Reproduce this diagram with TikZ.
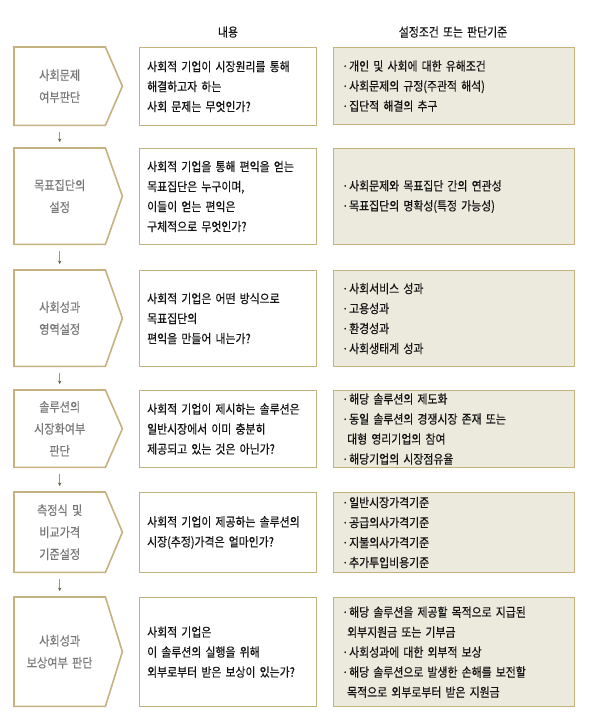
\documentclass[tikz,border=0pt]{standalone}
\usepackage{fontspec}
\setmainfont{Noto Sans CJK KR}[FakeStretch=0.87, WordSpace=1.7, FakeBold=0.4]
\usetikzlibrary{arrows.meta}
\definecolor{gold}{RGB}{196,178,128}
\definecolor{critfill}{RGB}{236,233,221}
\definecolor{labelgray}{RGB}{120,120,120}
\definecolor{arrowgray}{RGB}{150,150,150}
\definecolor{arrowhead}{RGB}{85,100,70}
\definecolor{ink}{RGB}{20,20,20}
\newcommand{\ind}{\hspace*{5pt}}
\newcommand{\bul}{\makebox[7pt][l]{·}}
\begin{document}
\begin{tikzpicture}[x=1pt,y=-1pt,
  box/.style={inner sep=0pt, anchor=north west},
  leftbox/.style={box, minimum width=91pt},
  midbox/.style={box, draw=gold, line width=1.1pt, minimum width=177pt},
  critbox/.style={box, draw=gold, line width=1.1pt, fill=critfill, minimum width=241pt},
  chev/.style={draw=gold, line width=1.6pt, line join=miter},
  lbl/.style={text=labelgray, align=center, inner sep=0pt, font=\fontsize{12.8}{22}\selectfont},
  midtxt/.style={text=ink, anchor=west, align=left, inner sep=0pt, font=\fontsize{12.5}{20}\selectfont},
  crittxt/.style={text=ink, anchor=west, align=left, inner sep=0pt, font=\fontsize{12.5}{20}\selectfont},
  head/.style={text=ink, inner sep=0pt, font=\fontsize{12.5}{20}\selectfont},
  flow/.style={draw=arrowgray, line width=0.6pt, -{Stealth[length=3.5pt,width=3.5pt,color=arrowhead]}}
]
\useasboundingbox[fill=white] (0,0) rectangle (591,715);

% headers
\node[head] (h1) at (228,32) {내용};
\node[head] (h2) at (453,32) {설정조건 또는 판단기준};

% row geometry: tops 47,148,270,390,492,597 ; heights 78,96,96,77,80,109
\node[leftbox, minimum height=78pt] (L1) at (14,47) {};
\node[leftbox, minimum height=96pt] (L2) at (14,148) {};
\node[leftbox, minimum height=96pt] (L3) at (14,270) {};
\node[leftbox, minimum height=77pt] (L4) at (14,390) {};
\node[leftbox, minimum height=80pt] (L5) at (14,492) {};
\node[leftbox, minimum height=109pt] (L6) at (14,597) {};

\foreach \n in {L1,L2,L3,L4,L5,L6}{
  \draw[chev] (\n.north west) -- (\n.north east) -- ([xshift=17pt]\n.east) -- (\n.south east) -- (\n.south west) -- cycle;
}

\node[lbl] (t1) at (L1.center) {사회문제\\여부판단};
\node[lbl] (t2) at (L2.center) {목표집단의\\설정};
\node[lbl] (t3) at (L3.center) {사회성과\\영역설정};
\node[lbl] (t4) at (L4.center) {솔루션의\\시장화여부\\판단};
\node[lbl] (t5) at (L5.center) {측정식 및\\비교가격\\기준설정};
\node[lbl] (t6) at (L6.center) {사회성과\\보상여부 판단};

% arrows
\draw[flow] ([yshift=-7pt]L1.south) -- ([yshift=6pt]L2.north);
\draw[flow] ([yshift=-7pt]L2.south) -- ([yshift=6pt]L3.north);
\draw[flow] ([yshift=-7pt]L3.south) -- ([yshift=6pt]L4.north);
\draw[flow] ([yshift=-7pt]L4.south) -- ([yshift=6pt]L5.north);
\draw[flow] ([yshift=-7pt]L5.south) -- ([yshift=6pt]L6.north);

% middle boxes
\node[midbox, minimum height=78pt] (M1) at (139,47) {};
\node[midbox, minimum height=96pt] (M2) at (139,148) {};
\node[midbox, minimum height=96pt] (M3) at (139,270) {};
\node[midbox, minimum height=77pt] (M4) at (139,390) {};
\node[midbox, minimum height=80pt] (M5) at (139,492) {};
\node[midbox, minimum height=109pt] (M6) at (139,597) {};

\node[midtxt] (m1) at ([xshift=8pt]M1.west) {사회적 기업이 시장원리를 통해\\해결하고자 하는\\사회 문제는 무엇인가?};
\node[midtxt] (m2) at ([xshift=8pt]M2.west) {사회적 기업을 통해 편익을 얻는\\목표집단은 누구이며,\\이들이 얻는 편익은\\구체적으로 무엇인가?};
\node[midtxt] (m3) at ([xshift=8pt]M3.west) {사회적 기업은 어떤 방식으로\\목표집단의\\편익을 만들어 내는가?};
\node[midtxt] (m4) at ([xshift=8pt]M4.west) {사회적 기업이 제시하는 솔루션은\\일반시장에서 이미 충분히\\제공되고 있는 것은 아닌가?};
\node[midtxt] (m5) at ([xshift=8pt]M5.west) {사회적 기업이 제공하는 솔루션의\\시장(추정)가격은 얼마인가?};
\node[midtxt] (m6) at ([xshift=8pt]M6.west) {사회적 기업은\\이 솔루션의 실행을 위해\\외부로부터 받은 보상이 있는가?};

% criteria boxes
\node[critbox, minimum height=77pt] (R1) at (333,47) {};
\node[critbox, minimum height=96pt] (R2) at (333,148) {};
\node[critbox, minimum height=96pt] (R3) at (333,270) {};
\node[critbox, minimum height=77pt] (R4) at (333,390) {};
\node[critbox, minimum height=80pt] (R5) at (333,492) {};
\node[critbox, minimum height=109pt] (R6) at (333,597) {};

\node[crittxt] (r1) at ([xshift=9pt]R1.west) {\bul 개인 및 사회에 대한 유해조건\\\bul 사회문제의 규정(주관적 해석)\\\bul 집단적 해결의 추구};
\node[crittxt] (r2) at ([xshift=9pt]R2.west) {\bul 사회문제와 목표집단 간의 연관성\\\bul 목표집단의 명확성(특정 가능성)};
\node[crittxt] (r3) at ([xshift=9pt]R3.west) {\bul 사회서비스 성과\\\bul 고용성과\\\bul 환경성과\\\bul 사회생태계 성과};
\node[crittxt] (r4) at ([xshift=9pt]R4.west) {\bul 해당 솔루션의 제도화\\\bul 동일 솔루션의 경쟁시장 존재 또는\\\ind 대형 영리기업의 참여\\\bul 해당기업의 시장점유율};
\node[crittxt] (r5) at ([xshift=9pt]R5.west) {\bul 일반시장가격기준\\\bul 공급의사가격기준\\\bul 지불의사가격기준\\\bul 추가투입비용기준};
\node[crittxt] (r6) at ([xshift=9pt]R6.west) {\bul 해당 솔루션을 제공할 목적으로 지급된\\\ind 외부지원금 또는 기부금\\\bul 사회성과에 대한 외부적 보상\\\bul 해당 솔루션으로 발생한 손해를 보전할\\\ind 목적으로 외부로부터 받은 지원금};
\end{tikzpicture}
\end{document}
